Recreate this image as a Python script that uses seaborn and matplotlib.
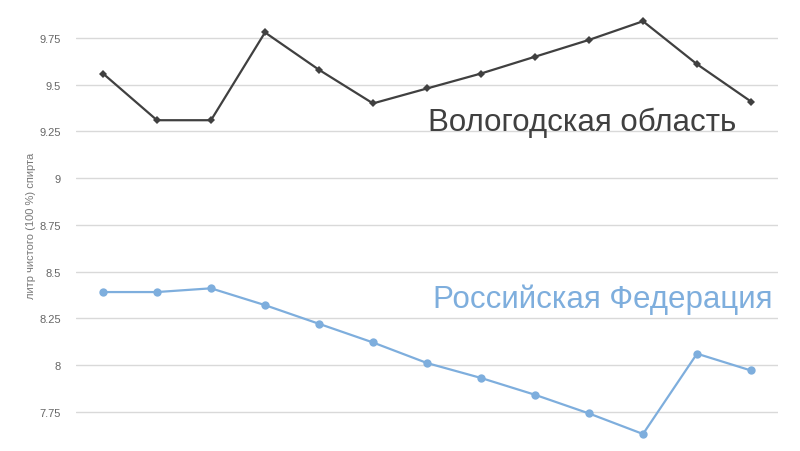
import seaborn as sns
import matplotlib.pyplot as plt
import pandas as pd

# данные, литр чистого спирта
points = list(range(13))
vologda = [9.56, 9.31, 9.31, 9.78, 9.58, 9.40, 9.48, 9.56, 9.65, 9.74, 9.84, 9.61, 9.41]
russia = [8.39, 8.39, 8.41, 8.32, 8.22, 8.12, 8.01, 7.93, 7.84, 7.74, 7.63, 8.06, 7.97]
y_ticks = [7.75, 8, 8.25, 8.5, 8.75, 9, 9.25, 9.5, 9.75]
y_labels = ['7.75', '8', '8.25', '8.5', '8.75', '9', '9.25', '9.5', '9.75']

dark = '#404040'
blue = '#7eaedd'

sns.set_style('white')
plt.rcParams['font.family'] = ['Liberation Sans', 'DejaVu Sans']

df = pd.DataFrame({'x': points, 'vologda': vologda, 'russia': russia})

fig = plt.figure(figsize=(8, 4.52), dpi=100)
ax = fig.add_axes([76 / 800, 0, 702 / 800, 1])

sns.lineplot(data=df, x='x', y='vologda', ax=ax, color=dark, linewidth=1.6,
             marker='D', markersize=4.5, markeredgewidth=0)
sns.lineplot(data=df, x='x', y='russia', ax=ax, color=blue, linewidth=1.6,
             marker='o', markersize=6, markeredgewidth=0)

ax.set_xlim(-0.5, 12.5)
ax.set_ylim(7.539, 9.959)
ax.set_yticks(y_ticks)
ax.set_yticklabels(y_labels, color='#666666', fontsize=8)
ax.set_xticks([])
ax.grid(axis='y', color='#d9d9d9', linewidth=1)
ax.tick_params(axis='y', length=0, pad=11)
for s in ax.spines.values():
    s.set_visible(False)

ax.set_xlabel('')
ax.set_ylabel('литр чистого (100 %) спирта', color='#777777', fontsize=8, labelpad=2)

ax.text(6.02, 9.258, 'Вологодская область', color=dark, fontsize=22.5,
        ha='left', va='baseline')
ax.text(6.11, 8.31, 'Российская Федерация', color=blue, fontsize=22.5,
        ha='left', va='baseline')

fig.savefig('out.png', dpi=100)
